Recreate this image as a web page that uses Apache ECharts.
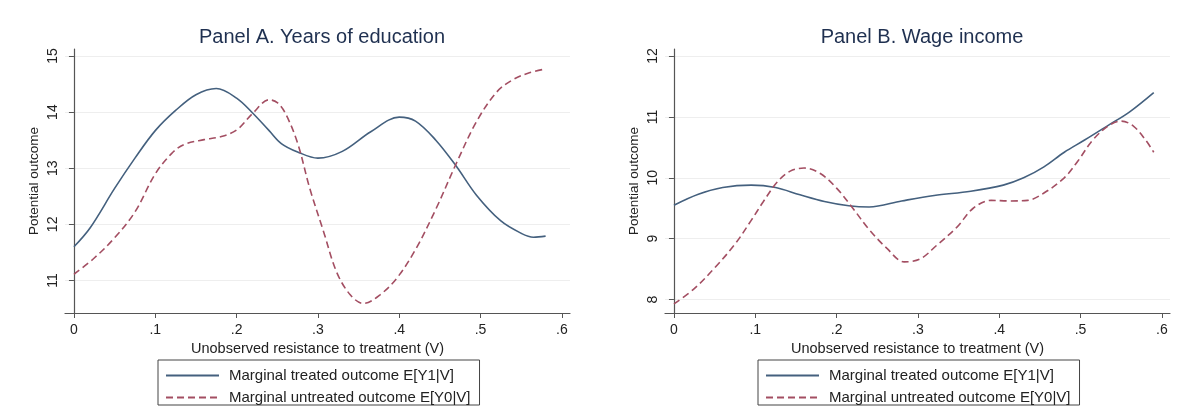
<!DOCTYPE html>
<html>
<head>
<meta charset="UTF-8">
<title></title>
<style>
  body { margin: 0; background: #fff; }
  #box { width: 1182px; height: 407px; }
</style>
</head>
<body>
<div id="box"></div>
<script type="text/javascript" src="https://cdn.jsdelivr.net/npm/echarts@6/dist/echarts.min.js"></script>
<script type="text/javascript">
// x ticks, same for both panels
var xTicks = [0, 0.1, 0.2, 0.3, 0.4, 0.5, 0.6];
var yTicksA = [11, 12, 13, 14, 15];
var yTicksB = [8, 9, 10, 11, 12];

// Panel A: years of education  [V, outcome]
var eduTreated = [
  [0, 11.60], [0.02, 11.94], [0.05, 12.64], [0.075, 13.18], [0.10, 13.67],
  [0.125, 14.03], [0.15, 14.31], [0.175, 14.42], [0.20, 14.25], [0.22, 13.98],
  [0.24, 13.67], [0.255, 13.44], [0.275, 13.29], [0.30, 13.18], [0.33, 13.30],
  [0.365, 13.65], [0.40, 13.91], [0.42, 13.84], [0.445, 13.50], [0.47, 13.04],
  [0.495, 12.52], [0.525, 12.06], [0.55, 11.84], [0.565, 11.77], [0.58, 11.79]
];
var eduUntreated = [
  [0, 11.11], [0.025, 11.40], [0.05, 11.76], [0.075, 12.22], [0.10, 12.90],
  [0.12, 13.26], [0.135, 13.42], [0.16, 13.51], [0.18, 13.56], [0.20, 13.68],
  [0.22, 13.98], [0.24, 14.22], [0.25, 14.17], [0.26, 13.98], [0.275, 13.45],
  [0.29, 12.64], [0.307, 11.87], [0.323, 11.15], [0.34, 10.74], [0.356, 10.59],
  [0.376, 10.74], [0.397, 11.04], [0.42, 11.55], [0.445, 12.27], [0.47, 13.08],
  [0.495, 13.83], [0.52, 14.36], [0.54, 14.58], [0.56, 14.70], [0.58, 14.77]
];

// Panel B: wage income
var wageTreated = [
  [0, 9.55], [0.03, 9.73], [0.06, 9.84], [0.095, 9.88], [0.125, 9.84],
  [0.155, 9.72], [0.185, 9.61], [0.215, 9.54], [0.24, 9.52], [0.28, 9.62],
  [0.32, 9.71], [0.365, 9.78], [0.405, 9.88], [0.43, 10.00], [0.455, 10.18],
  [0.48, 10.42], [0.505, 10.62], [0.535, 10.87], [0.56, 11.08], [0.59, 11.40]
];
var wageUntreated = [
  [0, 7.93], [0.025, 8.18], [0.05, 8.52], [0.075, 8.91], [0.095, 9.30],
  [0.11, 9.61], [0.127, 9.93], [0.143, 10.11], [0.16, 10.16], [0.18, 10.07],
  [0.20, 9.83], [0.22, 9.50], [0.24, 9.15], [0.262, 8.84], [0.283, 8.62],
  [0.303, 8.67], [0.323, 8.89], [0.348, 9.19], [0.368, 9.50], [0.39, 9.63],
  [0.413, 9.62], [0.435, 9.63], [0.455, 9.75], [0.48, 10.00], [0.497, 10.28],
  [0.515, 10.62], [0.535, 10.86], [0.55, 10.93], [0.565, 10.85], [0.58, 10.62],
  [0.59, 10.42]
];

var nameT = 'Marginal treated outcome E[Y1|V]';
var nameU = 'Marginal untreated outcome E[Y0|V]';
var font = 'Liberation Sans, Arial, sans-serif';
var blue = '#44607e';
var red = '#a34e62';
var axisCol = '#555';

function xAxisFor(idx) {
  return {
    type: 'value', gridIndex: idx, min: -0.011, max: 0.61,
    name: 'Unobserved resistance to treatment (V)',
    nameLocation: 'middle', nameGap: 28,
    nameTextStyle: { fontFamily: font, fontSize: 14.5, color: '#222' },
    axisLine: { show: true, lineStyle: { color: axisCol, width: 1.2 } },
    axisTick: { show: true, length: 5, customValues: xTicks, lineStyle: { color: axisCol } },
    axisLabel: {
      customValues: xTicks, margin: 10, fontFamily: font, fontSize: 14, color: '#222',
      formatter: function (v) { return v === 0 ? '0' : String(+v.toFixed(1)).replace(/^0/, ''); }
    },
    splitLine: { show: false }
  };
}

function yAxisFor(idx, lo, hi, ticks) {
  return {
    type: 'value', gridIndex: idx, min: lo, max: hi,
    name: 'Potential outcome', nameLocation: 'middle', nameGap: 24, nameRotate: 90,
    nameTextStyle: { fontFamily: font, fontSize: 13.5, color: '#222' },
    axisLine: { show: true, lineStyle: { color: axisCol, width: 1.2 } },
    axisTick: { show: true, length: 5, customValues: ticks, lineStyle: { color: axisCol } },
    axisLabel: { customValues: ticks, rotate: 90, margin: 5, fontFamily: font, fontSize: 14, color: '#222' },
    splitLine: { show: true, lineStyle: { color: '#eeeeee', width: 1 } }
  };
}

function line(name, data, idx, dashed) {
  return {
    name: name, type: 'line', xAxisIndex: idx, yAxisIndex: idx,
    data: data, smooth: 0.35, symbol: 'none', silent: true,
    lineStyle: { color: dashed ? red : blue, width: 1.6, type: dashed ? [7, 4] : 'solid' },
    itemStyle: { color: dashed ? red : blue }
  };
}

function legendFor(left) {
  return {
    left: left, top: 360, orient: 'vertical',
    data: [nameT, nameU], selectedMode: false,
    itemWidth: 53, itemHeight: 12, itemGap: 7,
    padding: [8, 9, 0, 7],
    borderColor: '#444', borderWidth: 1,
    itemStyle: { opacity: 0 },
    textStyle: { fontFamily: font, fontSize: 15, lineHeight: 14, color: '#222', padding: [0, 0, 0, 5] }
  };
}

var box = document.getElementById('box');
var myechart = echarts.init(box, null, { renderer: 'canvas' });

var option = {
  animation: false,
  backgroundColor: '#fff',
  title: [
    { text: 'Panel A. Years of education', left: 317, top: 22, textAlign: 'center',
      textStyle: { fontFamily: font, fontSize: 20, fontWeight: 'normal', color: '#1f3050' } },
    { text: 'Panel B. Wage income', left: 917, top: 22, textAlign: 'center',
      textStyle: { fontFamily: font, fontSize: 20, fontWeight: 'normal', color: '#1f3050' } }
  ],
  grid: [
    { left: 65, top: 49, width: 505, height: 264 },
    { left: 665, top: 49, width: 505, height: 264 }
  ],
  xAxis: [xAxisFor(0), xAxisFor(1)],
  yAxis: [yAxisFor(0, 10.42, 15.125, yTicksA), yAxisFor(1, 7.78, 12.115, yTicksB)],
  legend: [legendFor(158), legendFor(758)],
  series: [
    line(nameT, eduTreated, 0, false),
    line(nameU, eduUntreated, 0, true),
    line(nameT, wageTreated, 1, false),
    line(nameU, wageUntreated, 1, true)
  ]
};

myechart.setOption(option);
</script>
</body>
</html>
